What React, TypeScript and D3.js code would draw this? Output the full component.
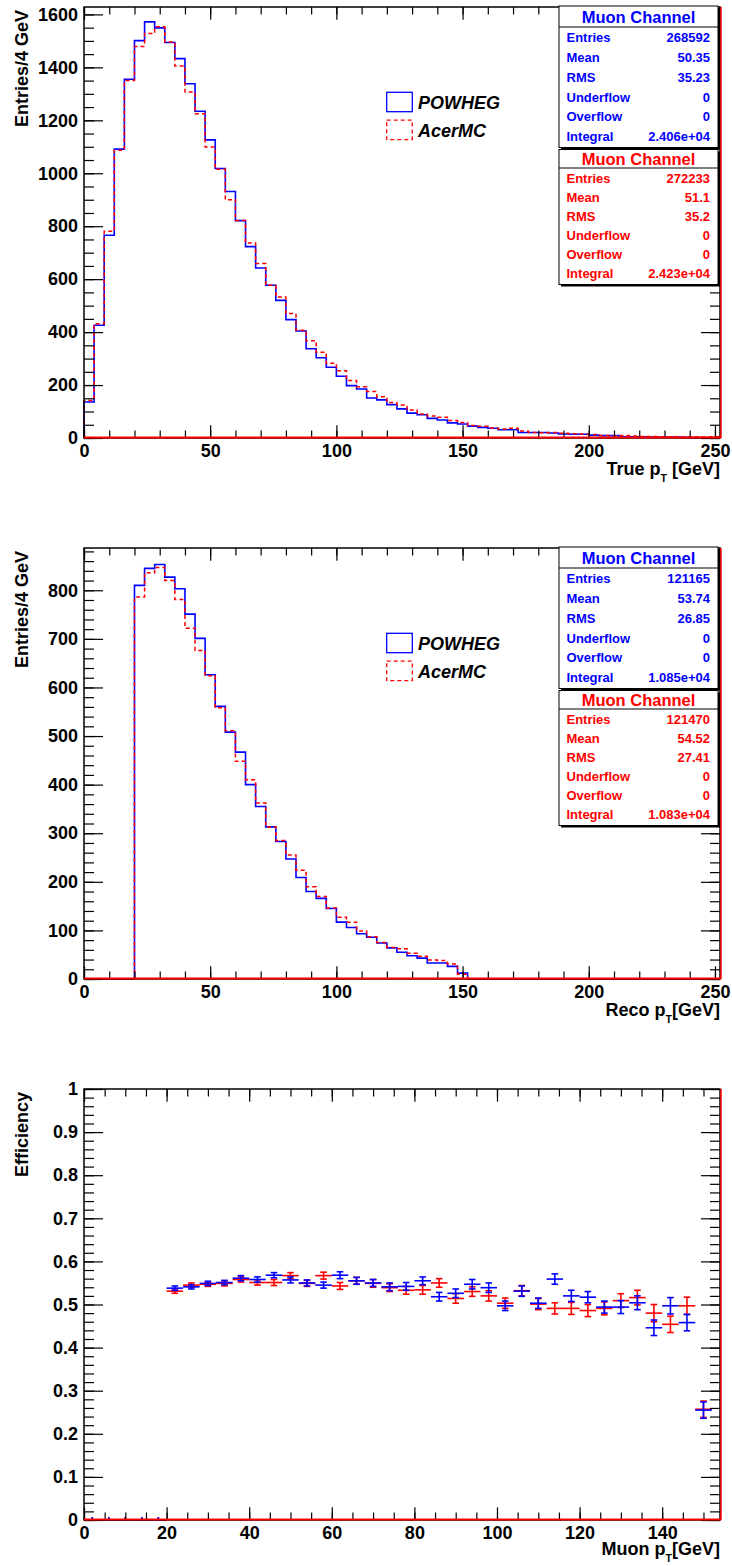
import React, { useEffect, useRef } from "react";
import * as d3 from "d3";

// ---- data ----
const BIN_W = 4; // GeV per bin, 63 bins from 0 to 252

const trueBlue = [
  136, 426, 766, 1091, 1355, 1501, 1572, 1549, 1494, 1433, 1338, 1234, 1126, 1018, 931, 821,
  723, 642, 577, 520, 447, 404, 337, 303, 267, 233, 198, 185, 151, 144, 126, 110,
  94, 88, 74, 68, 57, 53, 45, 40, 37, 31, 31, 21, 21, 21, 19, 15,
  14, 14, 11, 9, 9, 5, 5, 5, 4, 4, 4, 3, 2, 2, 2,
];
const trueRed = [
  142, 432, 781, 1087, 1350, 1479, 1528, 1553, 1496, 1405, 1307, 1225, 1099, 1015, 900, 822,
  737, 659, 577, 533, 470, 407, 367, 324, 282, 254, 217, 194, 176, 156, 134, 125,
  106, 91, 83, 78, 66, 59, 47, 44, 38, 34, 37, 26, 21, 20, 21, 18,
  16, 15, 13, 9, 8, 9, 8, 6, 6, 5, 5, 4, 5, 4, 5,
];
const recoBlue = [
  0, 0, 0, 0, 0, 810, 845, 853, 827, 803, 751, 701, 626, 561, 508, 467,
  400, 355, 313, 283, 247, 209, 180, 166, 145, 117, 106, 93, 86, 74, 64, 55,
  48, 43, 33, 33, 26, 12, 0, 0, 0, 0, 0, 0, 0, 0, 0, 0,
  0, 0, 0, 0, 0, 0, 0, 0, 0, 0, 0, 0, 0, 0, 0,
];
const recoRed = [
  0, 0, 0, 0, 0, 786, 836, 847, 820, 781, 722, 676, 624, 558, 511, 448,
  410, 362, 313, 285, 255, 224, 190, 170, 146, 127, 117, 99, 87, 75, 65, 62,
  53, 47, 39, 38, 31, 10, 0, 0, 0, 0, 0, 0, 0, 0, 0, 0,
  0, 0, 0, 0, 0, 0, 0, 0, 0, 0, 0, 0, 0, 0, 0,
];

const effCenters = [
  2, 6, 10, 14, 18, 22, 26, 30, 34, 38, 42, 46, 50, 54, 58, 62, 66, 70, 74, 78,
  82, 86, 90, 94, 98, 102, 106, 110, 114, 118, 122, 126, 130, 134, 138, 142, 146, 150,
];
const effBlue = [
  0, 0, 0, 0, 0, 0.538, 0.541, 0.549, 0.551, 0.561, 0.558, 0.568, 0.557, 0.55, 0.545, 0.568,
  0.555, 0.55, 0.541, 0.542, 0.555, 0.518, 0.526, 0.547, 0.539, 0.497, 0.531, 0.503, 0.559,
  0.52, 0.517, 0.494, 0.494, 0.504, 0.446, 0.497, 0.458, 0.255,
];
const effBlueErr = [
  0, 0, 0, 0, 0, 0.005, 0.005, 0.005, 0.005, 0.006, 0.006, 0.006, 0.007, 0.007, 0.007, 0.008,
  0.008, 0.008, 0.009, 0.009, 0.009, 0.01, 0.01, 0.011, 0.011, 0.011, 0.012, 0.012, 0.012,
  0.013, 0.013, 0.014, 0.015, 0.016, 0.018, 0.019, 0.019, 0.019,
];
const effRed = [
  0, 0, 0, 0, 0, 0.531, 0.545, 0.547, 0.549, 0.558, 0.551, 0.551, 0.567, 0.549, 0.567, 0.543,
  0.555, 0.549, 0.539, 0.533, 0.534, 0.55, 0.514, 0.53, 0.52, 0.503, 0.532, 0.501, 0.491,
  0.491, 0.486, 0.491, 0.509, 0.516, 0.48, 0.454, 0.497, 0.257,
];
const effRedErr = [
  0, 0, 0, 0, 0, 0.005, 0.005, 0.005, 0.006, 0.006, 0.006, 0.007, 0.007, 0.007, 0.008, 0.008,
  0.008, 0.009, 0.009, 0.009, 0.01, 0.01, 0.011, 0.011, 0.012, 0.012, 0.012, 0.013, 0.013,
  0.014, 0.014, 0.015, 0.016, 0.017, 0.02, 0.019, 0.02, 0.019,
];

const statLabels = ["Entries", "Mean", "RMS", "Underflow", "Overflow", "Integral"];
const trueStatsBlue = ["268592", "50.35", "35.23", "0", "0", "2.406e+04"];
const trueStatsRed = ["272233", "51.1", "35.2", "0", "0", "2.423e+04"];
const recoStatsBlue = ["121165", "53.74", "26.85", "0", "0", "1.085e+04"];
const recoStatsRed = ["121470", "54.52", "27.41", "0", "0", "1.083e+04"];

const legendNames = ["POWHEG", "AcerMC"];
const histXTicks = [0, 50, 100, 150, 200, 250];
const trueYTicks = [0, 200, 400, 600, 800, 1000, 1200, 1400, 1600];
const recoYTicks = [0, 100, 200, 300, 400, 500, 600, 700, 800];
const effXTicks = [0, 20, 40, 60, 80, 100, 120, 140];
const effYTicks = [0, 0.1, 0.2, 0.3, 0.4, 0.5, 0.6, 0.7, 0.8, 0.9, 1];

// ---- layout ----
const W = 732;
const H = 1566;
const LEFT = 84;
const RIGHT = 720;
const PANEL_H = 431;
const TOPS = [7, 548, 1089];
const FONT = "'Liberation Sans', Arial, Helvetica, sans-serif";
const BLUE = "#0000ff";
const RED = "#ff0000";

const styleAxis = (g: any) => {
  g.select(".domain").remove();
  g.selectAll("line").attr("stroke", "#000").attr("stroke-width", 1.2);
  g.selectAll("text")
    .attr("font-size", 18)
    .attr("font-weight", "bold")
    .attr("font-family", FONT)
    .attr("fill", "#000");
};

const drawAxes = (svg: any, x: any, y: any, xMaj: number[], xMin: number[], yMaj: number[], yMin: number[], xFmt: any, yFmt: any) => {
  const [x0, x1] = x.range();
  const [yb, yt] = y.range();
  const none = () => "";
  const list = [
    [d3.axisBottom(x).tickValues(xMaj).tickSize(-12.7).tickPadding(6).tickFormat(xFmt), `translate(0,${yb})`],
    [d3.axisBottom(x).tickValues(xMin).tickSize(-7.5).tickFormat(none), `translate(0,${yb})`],
    [d3.axisTop(x).tickValues(xMaj).tickSize(-12.7).tickFormat(none), `translate(0,${yt})`],
    [d3.axisTop(x).tickValues(xMin).tickSize(-7.5).tickFormat(none), `translate(0,${yt})`],
    [d3.axisLeft(y).tickValues(yMaj).tickSize(-19).tickPadding(6).tickFormat(yFmt), `translate(${x0},0)`],
    [d3.axisLeft(y).tickValues(yMin).tickSize(-10).tickFormat(none), `translate(${x0},0)`],
    [d3.axisRight(y).tickValues(yMaj).tickSize(-19).tickFormat(none), `translate(${x1},0)`],
    [d3.axisRight(y).tickValues(yMin).tickSize(-10).tickFormat(none), `translate(${x1},0)`],
  ];
  list.forEach(([gen, t]: any) => {
    svg.append("g").attr("transform", t).call(gen).call(styleAxis);
  });
  // frame + the red line ROOT leaves along bottom and right edges
  svg.append("rect")
    .attr("x", x0).attr("y", yt).attr("width", x1 - x0).attr("height", yb - yt)
    .attr("fill", "none").attr("stroke", "#000").attr("stroke-width", 1.5);
  svg.append("line").attr("x1", x0).attr("x2", x1 + 1).attr("y1", yb - 0.5).attr("y2", yb - 0.5)
    .attr("stroke", RED).attr("stroke-width", 2);
  svg.append("line").attr("x1", x1 + 1).attr("x2", x1 + 1).attr("y1", yt).attr("y2", yb)
    .attr("stroke", RED).attr("stroke-width", 1.5);
};

const axisTitles = (svg: any, top: number, yTitle: string, xPre: string, xPost: string, xOff: number) => {
  const yb = top + PANEL_H;
  svg.append("text")
    .attr("transform", `translate(28,${top + 3}) rotate(-90)`)
    .attr("text-anchor", "end")
    .attr("font-family", FONT).attr("font-weight", "bold").attr("font-size", 18)
    .text(yTitle);
  const t = svg.append("text")
    .attr("x", RIGHT).attr("y", yb + xOff)
    .attr("text-anchor", "end")
    .attr("font-family", FONT).attr("font-weight", "bold").attr("font-size", 18);
  t.append("tspan").text(xPre);
  t.append("tspan").attr("font-size", 10.5).attr("dy", 7.5).text("T");
  t.append("tspan").attr("dy", -7.5).text(xPost);
};

const drawStats = (svg: any, top: number, color: string, values: string[], y0: number, y1: number, titleY: number, sepY: number, rowY: number, step: number) => {
  const g = svg.append("g");
  g.append("rect").attr("x", 561).attr("y", top + y0 + 2).attr("width", 159).attr("height", y1 - y0).attr("fill", "#000");
  g.append("rect").attr("x", 559).attr("y", top + y0).attr("width", 159).attr("height", y1 - y0)
    .attr("fill", "#fff").attr("stroke", "#000").attr("stroke-width", 1);
  g.append("line").attr("x1", 559).attr("x2", 718).attr("y1", top + sepY).attr("y2", top + sepY)
    .attr("stroke", "#000").attr("stroke-width", 1);
  g.append("text").attr("x", 638.5).attr("y", top + titleY + 5.9).attr("text-anchor", "middle")
    .attr("font-family", FONT).attr("font-weight", "bold").attr("font-size", 16.5).attr("fill", color)
    .text("Muon Channel");
  statLabels.forEach((lab, i) => {
    const yy = top + rowY + i * step + 4.6;
    g.append("text").attr("x", 566.5).attr("y", yy)
      .attr("font-family", FONT).attr("font-weight", "bold").attr("font-size", 13).attr("fill", color)
      .text(lab);
    g.append("text").attr("x", 710).attr("y", yy).attr("text-anchor", "end")
      .attr("font-family", FONT).attr("font-weight", "bold").attr("font-size", 13).attr("fill", color)
      .text(values[i]);
  });
};

const drawLegend = (svg: any, top: number) => {
  const rows = [
    { name: legendNames[0], color: BLUE, dash: null, y: 85.3, ty: 101.6 },
    { name: legendNames[1], color: RED, dash: "4,3", y: 113.2, ty: 129.6 },
  ];
  rows.forEach((r) => {
    svg.append("rect").attr("x", 386.7).attr("y", top + r.y).attr("width", 25.6).attr("height", 19.4)
      .attr("fill", "none").attr("stroke", r.color).attr("stroke-width", 1.3)
      .attr("stroke-dasharray", r.dash);
    svg.append("text").attr("x", 418).attr("y", top + r.ty)
      .attr("font-family", FONT).attr("font-weight", "bold").attr("font-style", "italic").attr("font-size", 18)
      .text(r.name);
  });
};

const histPath = (x: any, y: any, vals: number[]) => {
  const pts: [number, number][] = [[0, 0]];
  vals.forEach((v, i) => pts.push([i * BIN_W, v]));
  pts.push([vals.length * BIN_W, vals[vals.length - 1]]);
  pts.push([vals.length * BIN_W, 0]);
  return d3.line<[number, number]>()
    .x((d) => x(d[0]))
    .y((d) => y(d[1]))
    .curve(d3.curveStepAfter)(pts);
};

const drawHistPanel = (svg: any, top: number, ymax: number, yTicks: number[], yMinor: number, blue: number[], red: number[], xPre: string, xPost: string, sBlue: string[], sRed: string[]) => {
  const x = d3.scaleLinear().domain([0, 252]).range([LEFT, RIGHT]);
  const y = d3.scaleLinear().domain([0, ymax]).range([top + PANEL_H, top]);
  svg.append("path").attr("d", histPath(x, y, blue)).attr("fill", "none")
    .attr("stroke", BLUE).attr("stroke-width", 1.6);
  svg.append("path").attr("d", histPath(x, y, red)).attr("fill", "none")
    .attr("stroke", RED).attr("stroke-width", 1.5).attr("stroke-dasharray", "4,3");
  drawAxes(svg, x, y, histXTicks, d3.range(0, 252, 10), yTicks, d3.range(0, ymax, yMinor),
    d3.format("d"), d3.format("d"));
  axisTitles(svg, top, "Entries/4 GeV", xPre, xPost, 36.5);
  drawLegend(svg, top);
  drawStats(svg, top, BLUE, sBlue, -1, 140.5, 10, 20, 30.8, 19.7);
  drawStats(svg, top, RED, sRed, 142.5, 277.5, 152.5, 161, 171, 19.1);
};

const drawEffPanel = (svg: any, top: number) => {
  const x = d3.scaleLinear().domain([0, 154]).range([LEFT, RIGHT]);
  const y = d3.scaleLinear().domain([0, 1]).range([top + PANEL_H, top]);
  const series = [
    { vals: effRed, errs: effRedErr, color: RED },
    { vals: effBlue, errs: effBlueErr, color: BLUE },
  ];
  series.forEach((s) => {
    const g = svg.append("g").attr("stroke", s.color).attr("stroke-width", 1.6).attr("fill", "none");
    effCenters.forEach((c, i) => {
      const v = s.vals[i];
      const e = s.errs[i];
      g.append("line").attr("x1", x(c - BIN_W / 2)).attr("x2", x(c + BIN_W / 2)).attr("y1", y(v)).attr("y2", y(v));
      if (e > 0) {
        g.append("line").attr("x1", x(c)).attr("x2", x(c)).attr("y1", y(v - e)).attr("y2", y(v + e));
        [v - e, v + e].forEach((yy) => {
          g.append("line").attr("x1", x(c) - 3.3).attr("x2", x(c) + 3.3).attr("y1", y(yy)).attr("y2", y(yy));
        });
      } else {
        g.append("line").attr("x1", x(c)).attr("x2", x(c)).attr("y1", y(v) - 3).attr("y2", y(v));
      }
    });
  });
  drawAxes(svg, x, y, effXTicks, d3.range(0, 154, 5), effYTicks, d3.range(0, 1.0001, 0.02),
    d3.format("d"), (d: number) => (d === 0 || d === 1 ? String(d) : d3.format(".1f")(d)));
  axisTitles(svg, top, "Efficiency", "Muon p", "[GeV]", 34.5);
};

const App = () => {
  const ref = useRef<SVGSVGElement>(null);

  useEffect(() => {
    const svg = d3.select(ref.current);
    svg.selectAll("*").remove();
    svg.append("rect").attr("width", W).attr("height", H).attr("fill", "#fff");
    drawHistPanel(svg, TOPS[0], 1628, trueYTicks, 50, trueBlue, trueRed, "True p", " [GeV]", trueStatsBlue, trueStatsRed);
    drawHistPanel(svg, TOPS[1], 887, recoYTicks, 20, recoBlue, recoRed, "Reco p", "[GeV]", recoStatsBlue, recoStatsRed);
    drawEffPanel(svg, TOPS[2]);
  }, []);

  return (
    <svg
      ref={ref}
      width={W}
      height={H}
      style={{ position: "absolute", left: 0, top: 0, display: "block" }}
    />
  );
};

export default App;
